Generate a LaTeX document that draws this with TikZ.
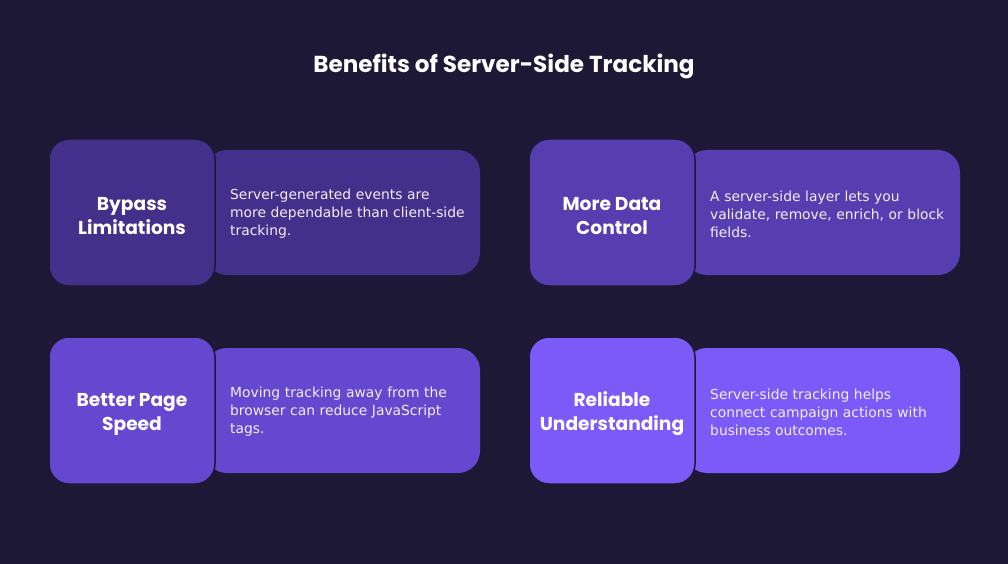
\documentclass[tikz,border=0pt]{standalone}
\usepackage{fontspec}
\setmainfont{DejaVu Sans}
\newfontfamily\headfont{Poppins}
\begin{document}
\definecolor{bgdark}{HTML}{1C1836}
\definecolor{cardA}{HTML}{43308A}
\definecolor{cardB}{HTML}{563DB0}
\definecolor{cardC}{HTML}{6547D0}
\definecolor{cardD}{HTML}{7B5AF8}
\begin{tikzpicture}[x=1bp,y=-1bp,
  headbox/.style={fill=#1,draw=bgdark,line width=1.5bp,rounded corners=20bp},
  bodybox/.style={fill=#1,rounded corners=22bp},
  headtext/.style={text=white,font=\headfont\bfseries\fontsize{18.7}{24}\selectfont,align=center,anchor=center,inner sep=0pt},
  bodytext/.style={text=white!92!cardA,font=\fontsize{13.9}{18}\selectfont,align=left,anchor=west,text width=250bp,inner sep=0pt},
  titletext/.style={text=white,font=\headfont\bfseries\fontsize{23.2}{28}\selectfont,inner sep=0pt}]
  \fill[bgdark] (0,0) rectangle (1008,564);
  \useasboundingbox (0,0) rectangle (1008,564);

  \node[titletext] (title) at (504,66) {Benefits of Server-Side Tracking};

  % card: Bypass Limitations
  \fill[bodybox=cardA] (205,150) rectangle (480,275);
  \node[bodytext] (bodyA) at (230,214) {Server-generated events are\\more dependable than client-side\\tracking.};
  \filldraw[headbox=cardA] (49,139) rectangle (215,286);
  \node[headtext] (headA) at (132,216) {Bypass\\Limitations};

  % card: More Data Control
  \fill[bodybox=cardB] (685,150) rectangle (960,275);
  \node[bodytext] (bodyB) at (710,214) {A server-side layer lets you\\validate, remove, enrich, or block\\fields.};
  \filldraw[headbox=cardB] (529,139) rectangle (695,286);
  \node[headtext] (headB) at (612,216) {More Data\\Control};

  % card: Better Page Speed
  \fill[bodybox=cardC] (205,348) rectangle (480,473);
  \node[bodytext] (bodyC) at (230,412) {Moving tracking away from the\\browser can reduce JavaScript\\tags.};
  \filldraw[headbox=cardC] (49,337) rectangle (215,484);
  \node[headtext] (headC) at (132,414) {Better Page\\Speed};

  % card: Reliable Understanding
  \fill[bodybox=cardD] (685,348) rectangle (960,473);
  \node[bodytext] (bodyD) at (710,412) {Server-side tracking helps\\connect campaign actions with\\business outcomes.};
  \filldraw[headbox=cardD] (529,337) rectangle (695,484);
  \node[headtext] (headD) at (612,414) {Reliable\\Understanding};
\end{tikzpicture}
\end{document}
